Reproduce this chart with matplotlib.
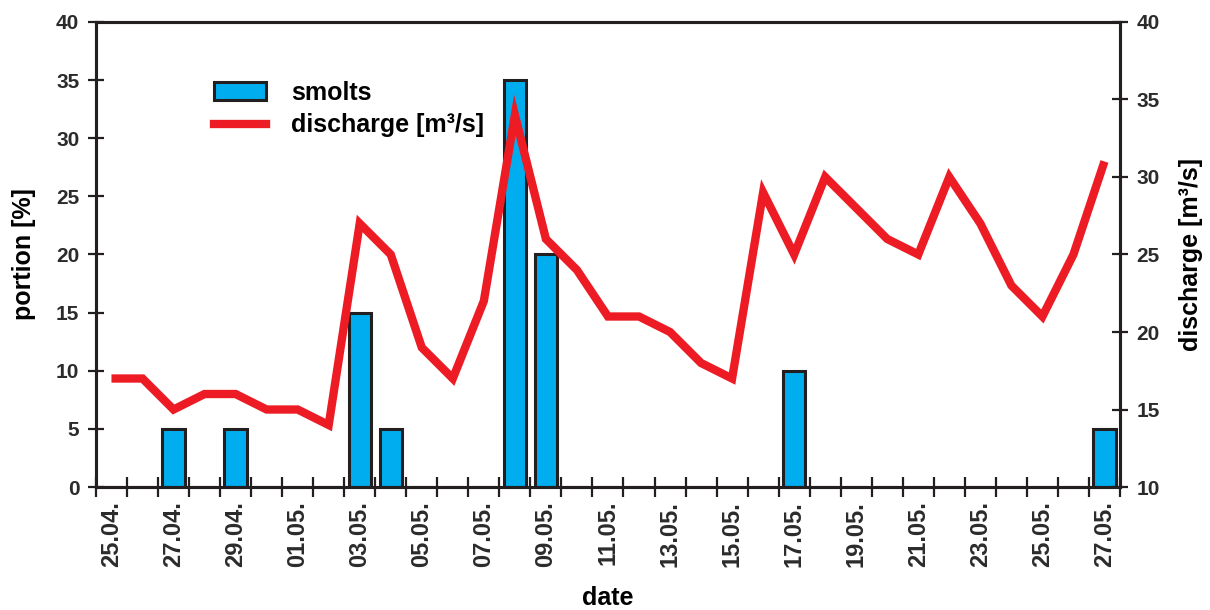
import numpy as np
import matplotlib
matplotlib.use("Agg")
import matplotlib.pyplot as plt
from matplotlib.lines import Line2D
from matplotlib.patches import Patch


# Data

dates = ["25.04.", "26.04.", "27.04.", "28.04.", "29.04.", "30.04.",
         "01.05.", "02.05.", "03.05.", "04.05.", "05.05.", "06.05.",
         "07.05.", "08.05.", "09.05.", "10.05.", "11.05.", "12.05.",
         "13.05.", "14.05.", "15.05.", "16.05.", "17.05.", "18.05.",
         "19.05.", "20.05.", "21.05.", "22.05.", "23.05.", "24.05.",
         "25.05.", "26.05.", "27.05."]
smolts = [0, 0, 5, 0, 5, 0,
          0, 0, 15, 5, 0, 0,
          0, 35, 20, 0, 0, 0,
          0, 0, 0, 0, 10, 0,
          0, 0, 0, 0, 0, 0,
          0, 0, 5]
discharge = [17, 17, 15, 16, 16, 15,
             15, 14, 27, 25, 19, 17,
             22, 34, 26, 24, 21, 21,
             20, 18, 17, 29, 25, 30,
             28, 26, 25, 30, 27, 23,
             21, 25, 31]


# Style

plt.rcParams["font.family"] = ["Liberation Sans", "DejaVu Sans"]
bar_color = "#00aeef"
edge_color = "#231f20"
line_color = "#ed1c24"
text_color = "#2b2b2b"

x = np.arange(len(dates))

fig = plt.figure(figsize=(12.1, 6.1), dpi=100)
ax = fig.add_axes([0.0793, 0.2016, 0.8463, 0.7624])
ax2 = ax.twinx()

ax.bar(x, smolts, width=0.72, color=bar_color, edgecolor=edge_color,
       linewidth=2.2, zorder=2)
ax2.plot(x, discharge, color=line_color, linewidth=6, solid_joinstyle="miter",
         solid_capstyle="butt", zorder=3)

ax.set_xlim(-0.5, len(dates) - 0.5)
ax.set_ylim(0, 40)
ax2.set_ylim(10, 40)
ax.set_yticks(np.arange(0, 41, 5))
ax2.set_yticks(np.arange(10, 41, 5))

# day boundaries get the tick marks, every second day gets a label
ax.set_xticks(np.arange(-0.5, len(dates), 1.0))
ax.set_xticklabels([])
ax.set_xticks(x[::2], minor=True)
ax.set_xticklabels(dates[::2], minor=True, rotation=90, fontsize=17,
                   fontweight="bold", color=text_color)
ax.tick_params(axis="x", which="major", direction="inout", length=14,
               width=1.6, color=edge_color)
ax.tick_params(axis="x", which="minor", length=0, pad=10)
for a in (ax, ax2):
    a.tick_params(axis="y", direction="inout", length=12, width=1.6,
                  color=edge_color, labelsize=15, labelcolor=text_color, pad=6)
    for t in a.get_yticklabels():
        t.set_fontweight("bold")
    for s in a.spines.values():
        s.set_linewidth(2.2)
        s.set_color(edge_color)

ax.set_xlabel("date", fontsize=18, fontweight="bold", labelpad=14)
ax.set_ylabel("portion [%]", fontsize=18, fontweight="bold", labelpad=14)
ax2.set_ylabel("discharge [m³/s]", fontsize=18, fontweight="bold", labelpad=14)

handles = [Patch(facecolor=bar_color, edgecolor=edge_color, linewidth=2.2),
           Line2D([0], [0], color=line_color, linewidth=6)]
ax2.legend(handles, ["smolts", "discharge [m³/s]"], loc="upper left",
           bbox_to_anchor=(0.093, 0.922), frameon=False, handlelength=2.1,
           handleheight=0.75, handletextpad=1.0, labelspacing=0.35,
           prop={"size": 18, "weight": "bold"})

fig.savefig("out.png", dpi=100)
